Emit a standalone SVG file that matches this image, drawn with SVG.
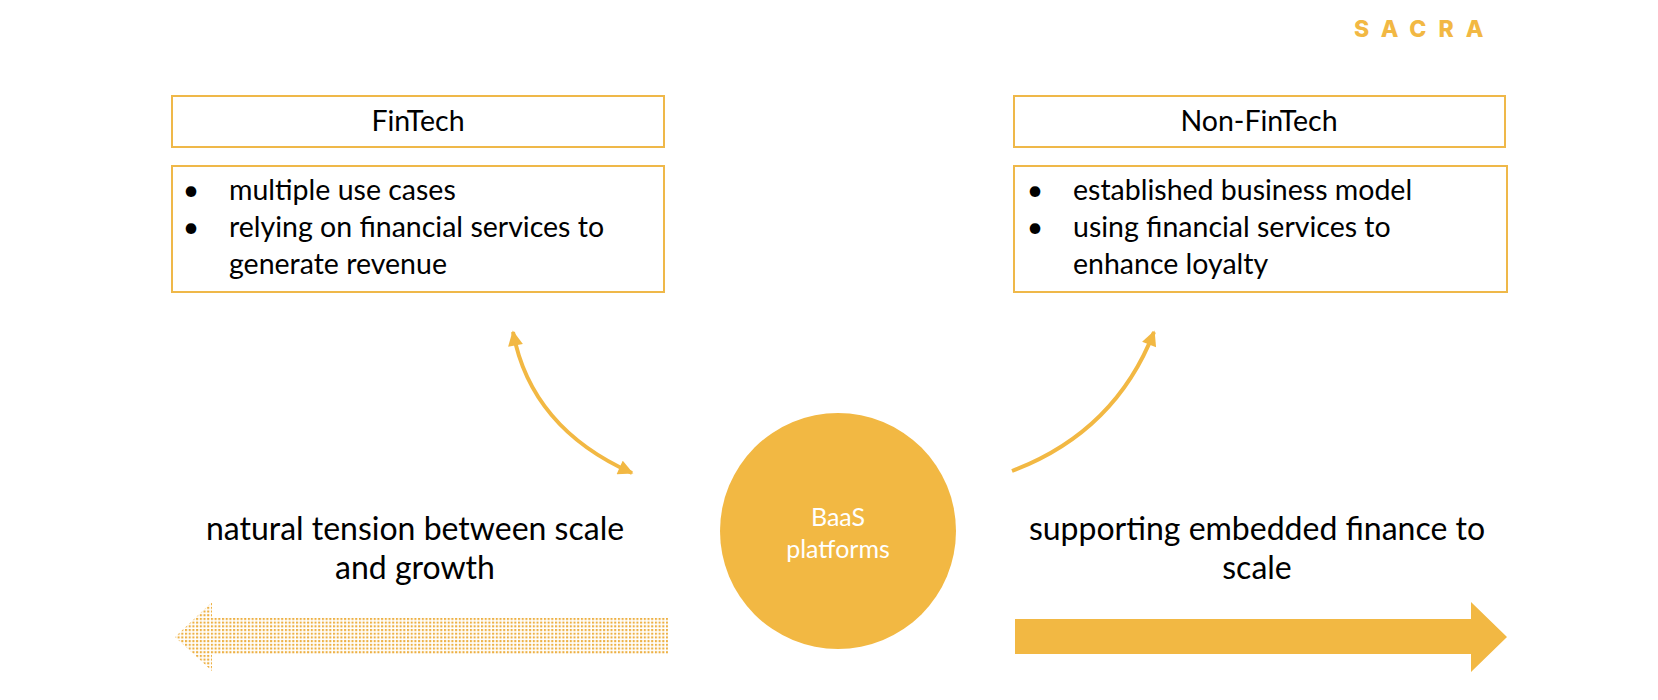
<svg xmlns="http://www.w3.org/2000/svg" width="1658" height="700" viewBox="0 0 1658 700">
<style>
.box{fill:#fff;stroke:#EFB849;stroke-width:2}
.t{font-family:Lato,"Open Sans","Liberation Sans",sans-serif;fill:#000}
.title{font-size:28.5px;text-anchor:middle}
.item{font-size:28.5px}
.big{font-size:32px;text-anchor:middle}
.w{font-family:Lato,"Open Sans",sans-serif;font-size:25px;fill:#fff;text-anchor:middle}
.curve{fill:none;stroke:#F2B843;stroke-width:4}
</style>
<defs>
<marker id="ah" viewBox="0 0 10 10" refX="9" refY="5" markerWidth="17" markerHeight="15" markerUnits="userSpaceOnUse" orient="auto-start-reverse">
<path d="M0,0 L10,5 L0,10 z" fill="#F2B843"/>
</marker>
<pattern id="dots" width="3.7" height="3.7" patternUnits="userSpaceOnUse">
<rect x="0" y="0" width="2.1" height="2.1" fill="#EDB043"/>
</pattern>
</defs>
<g id="logo">
<text x="1354" y="37" font-family="Inter,'Open Sans','Liberation Sans',sans-serif" font-weight="800" font-size="23" letter-spacing="12" fill="#F2B843">SACRA</text>
</g>
<g id="fintech">
<rect class="box" x="172" y="96" width="492" height="51"/>
<text class="t title" x="418" y="131">FinTech</text>
<rect class="box" x="172" y="166" width="492" height="126"/>
<text class="t item" x="191" y="200" text-anchor="middle">•</text>
<text class="t item" x="229" y="200">multiple use cases</text>
<text class="t item" x="191" y="237" text-anchor="middle">•</text>
<text class="t item" x="229" y="237">relying on financial services to</text>
<text class="t item" x="229" y="274">generate revenue</text>
</g>
<g id="nonfintech">
<rect class="box" x="1014" y="96" width="491" height="51"/>
<text class="t title" x="1259" y="131">Non-FinTech</text>
<rect class="box" x="1014" y="166" width="493" height="126"/>
<text class="t item" x="1035" y="200" text-anchor="middle">•</text>
<text class="t item" x="1073" y="200">established business model</text>
<text class="t item" x="1035" y="237" text-anchor="middle">•</text>
<text class="t item" x="1073" y="237">using financial services to</text>
<text class="t item" x="1073" y="274">enhance loyalty</text>
</g>
<g id="baas">
<circle cx="838" cy="531" r="118" fill="#F2B843"/>
<text class="w" x="838" y="526">BaaS</text>
<text class="w" x="838" y="558">platforms</text>
</g>
<g id="tension">
<text class="t big" x="415" y="540">natural tension between scale</text>
<text class="t big" x="415" y="579">and growth</text>
<path d="M175,637 L212,602 L212,618 L668,618 L668,654 L212,654 L212,671 Z" fill="url(#dots)"/>
</g>
<g id="embedded">
<text class="t big" x="1257" y="540">supporting embedded finance to</text>
<text class="t big" x="1257" y="579">scale</text>
<path d="M1015,619 L1471,619 L1471,602 L1507,637 L1471,672 L1471,654 L1015,654 Z" fill="#F2B843"/>
</g>
<g id="connectors">
<path class="curve" d="M513,332 Q531,428 632,473" marker-start="url(#ah)" marker-end="url(#ah)"/>
<path class="curve" d="M1012,471 Q1115,432 1154,332" marker-end="url(#ah)"/>
</g>
</svg>
